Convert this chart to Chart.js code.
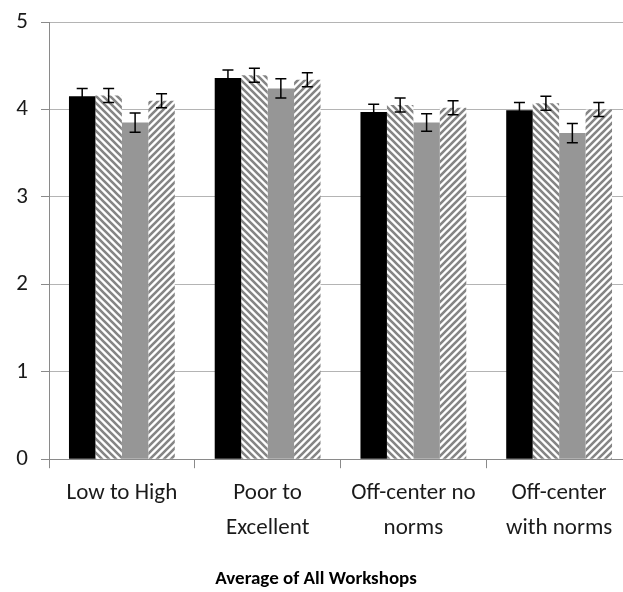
<!DOCTYPE html>
<html>
<head>
<meta charset="utf-8">
<script src="https://cdn.jsdelivr.net/npm/chart.js@4"></script>
<style>
  html, body { margin: 0; padding: 0; background: #fff; overflow: hidden; }
  #wrap { width: 632px; height: 592px; position: relative; }
</style>
</head>
<body>
<div id="wrap"><canvas id="c" width="632" height="592"></canvas></div>
<script>
const categories = [["Low to High"], ["Poor to", "Excellent"], ["Off-center no", "norms"], ["Off-center", "with norms"]];
const seriesA = [4.15, 4.36, 3.97, 3.99];
const seriesB = [4.16, 4.39, 4.05, 4.07];
const seriesC = [3.85, 4.24, 3.85, 3.73];
const seriesD = [4.10, 4.34, 4.02, 4.00];
const errA = [0.09, 0.09, 0.09, 0.09];
const errB = [0.08, 0.08, 0.08, 0.08];
const errC = [0.11, 0.11, 0.10, 0.11];
const errD = [0.08, 0.08, 0.08, 0.08];
const yTicks = [0, 1, 2, 3, 4, 5];
const xTitle = "Average of All Workshops";

const FONT = "Carlito, 'Liberation Sans Narrow', 'DejaVu Sans Condensed', sans-serif";

function makeHatch(forward) {
  const p = 7;
  const c = document.createElement('canvas');
  c.width = p; c.height = p;
  const g = c.getContext('2d');
  g.fillStyle = '#ffffff';
  g.fillRect(0, 0, p, p);
  g.strokeStyle = '#858585';
  g.lineWidth = 2.6;
  g.beginPath();
  if (forward) {
    g.moveTo(-p, p); g.lineTo(p, -p);
    g.moveTo(0, 2 * p); g.lineTo(2 * p, 0);
    g.moveTo(0, p); g.lineTo(p, 0);
  } else {
    g.moveTo(-p, 0); g.lineTo(p, 2 * p);
    g.moveTo(0, -p); g.lineTo(2 * p, p);
    g.moveTo(0, 0); g.lineTo(p, p);
  }
  g.stroke();
  return document.getElementById('c').getContext('2d').createPattern(c, 'repeat');
}

const errors = [errA, errB, errC, errD];

const errorBarPlugin = {
  id: 'errorBars',
  afterDatasetsDraw(chart) {
    const ctx = chart.ctx;
    const y = chart.scales.y;
    ctx.save();
    ctx.strokeStyle = '#000';
    ctx.lineWidth = 1.5;
    chart.data.datasets.forEach((ds, di) => {
      const meta = chart.getDatasetMeta(di);
      meta.data.forEach((bar, i) => {
        const v = ds.data[i];
        const e = errors[di][i];
        const x = bar.x;
        const top = y.getPixelForValue(v + e);
        const bot = y.getPixelForValue(v - e);
        const half = 5.5;
        ctx.beginPath();
        ctx.moveTo(x, top); ctx.lineTo(x, bot);
        ctx.moveTo(x - half, top); ctx.lineTo(x + half, top);
        ctx.moveTo(x - half, bot); ctx.lineTo(x + half, bot);
        ctx.stroke();
      });
    });
    ctx.restore();
  }
};

new Chart(document.getElementById('c'), {
  type: 'bar',
  data: {
    labels: categories,
    datasets: [
      { data: seriesA, backgroundColor: '#000000', borderWidth: 0 },
      { data: seriesB, backgroundColor: makeHatch(false), borderWidth: 0 },
      { data: seriesC, backgroundColor: '#969696', borderWidth: 0 },
      { data: seriesD, backgroundColor: makeHatch(true), borderWidth: 0 }
    ]
  },
  options: {
    responsive: false,
    animation: false,
    devicePixelRatio: 1,
    layout: { padding: { top: 22, right: 0, left: 0, bottom: 0 } },
    plugins: {
      legend: { display: false }, tooltip: { enabled: false },
      title: { display: true, position: 'bottom', text: xTitle, color: '#000',
               font: { family: FONT, size: 19, weight: 'bold', lineHeight: 1.2 }, padding: { top: 0, bottom: 1 } }
    },
    datasets: { bar: { categoryPercentage: 0.726, barPercentage: 1.0 } },
    scales: {
      x: {
        grid: { display: true, drawOnChartArea: false, drawTicks: true, tickLength: 9, color: '#8a8a8a', offset: true },
        border: { color: '#8a8a8a', width: 1 },
        ticks: { color: '#1a1a1a', font: { family: FONT, size: 23, lineHeight: 1.55 }, padding: 7, maxRotation: 0, autoSkip: false },
        afterFit(s) { s.height = 109; s.paddingLeft = 0; s.paddingRight = 0; }
      },
      y: {
        min: 0, max: 5,
        afterBuildTicks(s) { s.ticks = yTicks.map(v => ({ value: v })); },
        grid: { color: '#b4b4b4', tickLength: 8, tickColor: '#8a8a8a' },
        border: { color: '#8a8a8a', width: 1 },
        ticks: { color: '#1a1a1a', font: { family: FONT, size: 23 }, padding: 13 },
        afterFit(s) { s.width = 49; s.paddingTop = 0; s.paddingBottom = 0; }
      }
    }
  },
  plugins: [errorBarPlugin]
});
</script>
</body>
</html>
